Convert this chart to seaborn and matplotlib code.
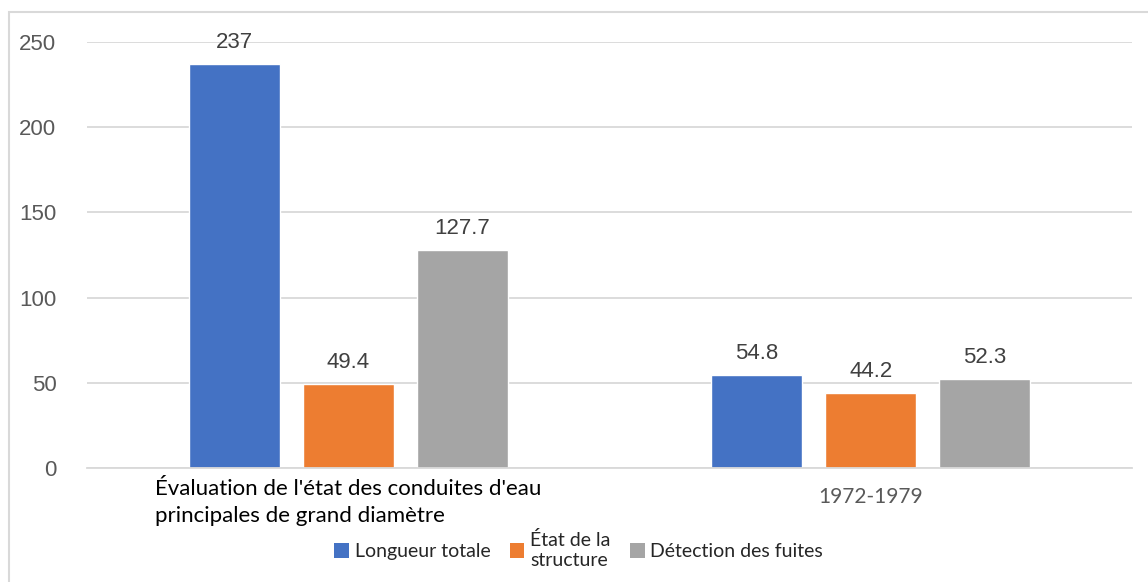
import pandas as pd
import numpy as np
import matplotlib.pyplot as plt
from matplotlib.patches import Rectangle, Patch
import seaborn as sns

# ---------------- data ----------------
categories = ["Évaluation de l'état des conduites d'eau\nprincipales de grand diamètre", "1972-1979"]
series_names = ["Longueur totale", "État de la structure", "Détection des fuites"]
legend_labels = ["Longueur totale", "État de la\nstructure", "Détection des fuites"]
longueur = [237, 54.8]
etat = [49.4, 44.2]
detection = [127.7, 52.3]
y_ticks = [0, 50, 100, 150, 200, 250]

colors = ["#4472C4", "#ED7D31", "#A5A5A5"]

df = pd.DataFrame({
    "categorie": categories * 3,
    "serie": [s for s in series_names for _ in categories],
    "valeur": longueur + etat + detection,
})

sns.set_style("white")
plt.rcParams["font.family"] = ["Liberation Sans", "DejaVu Sans"]
calibri_like = ["Lato", "DejaVu Sans"]

fig = plt.figure(figsize=(11.48, 5.82), dpi=100)
ax = fig.add_axes([87 / 1148, 1 - 468 / 582, (1132 - 87) / 1148, (468 - 42) / 582])

sns.barplot(data=df, x="categorie", y="valeur", hue="serie", palette=colors,
            order=categories, hue_order=series_names,
            width=0.655, gap=0.2, saturation=1, ax=ax, legend=False)

# value labels
for cont in ax.containers:
    ax.bar_label(cont, fmt="%g", padding=8, fontsize=16, color="#404040")

ax.set_ylim(0, 250)
ax.set_yticks(y_ticks)
ax.set_xlim(-0.5, 1.5)
ax.yaxis.grid(True, color="#D9D9D9", linewidth=1.3)
ax.set_axisbelow(True)
for side in ["top", "right", "left"]:
    ax.spines[side].set_visible(False)
ax.spines["bottom"].set_color("#D9D9D9")
ax.spines["bottom"].set_linewidth(1.3)
ax.tick_params(axis="both", length=0)
ax.tick_params(axis="y", labelsize=16, labelcolor="#595959", pad=22)
ax.set_xlabel("")
ax.set_ylabel("")

# category labels (first one black and wrapped, second one grey and lower)
ticks = ax.get_xticks()
ax.set_xticks(ticks, [categories[0], ""])
ax.tick_params(axis="x", pad=8)
lab0 = ax.get_xticklabels()[0]
lab0.set_fontfamily(calibri_like)
lab0.set_fontsize(16)
lab0.set_color("black")
lab0.set_multialignment("left")
lab0.set_linespacing(1.45)
ax.annotate(categories[1], xy=(ticks[1], 0), xycoords=("data", "axes fraction"),
            xytext=(0, -29), textcoords="offset pixels", ha="center", va="center",
            fontfamily=calibri_like, fontsize=15, color="#595959")

# legend
handles = [Patch(facecolor=c, edgecolor="none") for c in colors]
fig.legend(handles, legend_labels, loc="upper center", bbox_to_anchor=(0.504, 0.107),
           ncol=3, frameon=False, handlelength=0.75, handleheight=0.75, handletextpad=0.3,
           columnspacing=1.0, borderpad=0.1, labelspacing=0.2,
           prop={"family": calibri_like, "size": 14})

# chart border
fig.patches.append(Rectangle((9 / 1148, -0.05), 1.2, 1 - 12 / 582 + 0.05,
                             transform=fig.transFigure, fill=False,
                             edgecolor="#D9D9D9", linewidth=1.5))

fig.savefig("out.png", dpi=100)
